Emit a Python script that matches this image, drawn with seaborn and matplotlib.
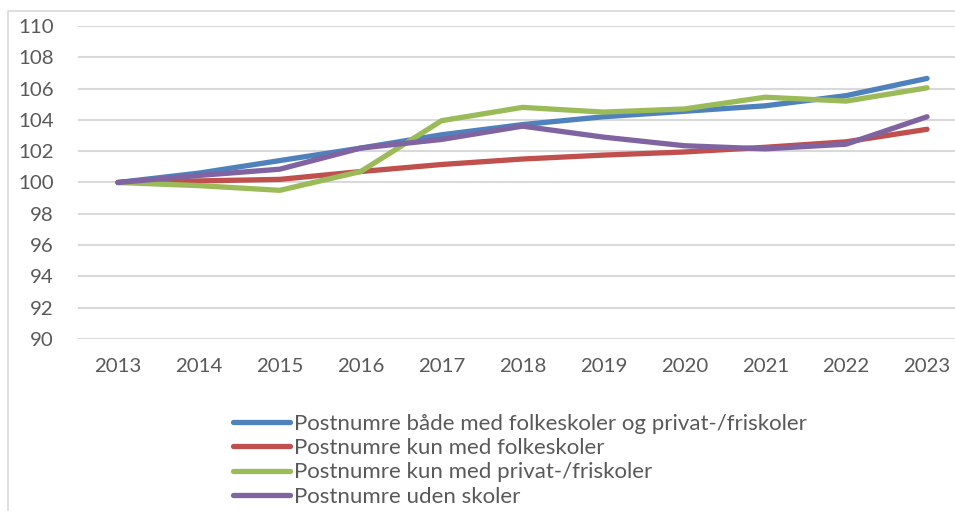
import matplotlib
matplotlib.use("Agg")
import matplotlib.pyplot as plt
import seaborn as sns
import pandas as pd
from matplotlib.patches import Rectangle
from matplotlib.lines import Line2D

years = [2013, 2014, 2015, 2016, 2017, 2018, 2019, 2020, 2021, 2022, 2023]
both = [100, 100.6, 101.4, 102.2, 103.05, 103.7, 104.2, 104.55, 104.9, 105.55, 106.65]
folke = [100, 100.1, 100.2, 100.7, 101.15, 101.5, 101.75, 101.95, 102.25, 102.6, 103.4]
privat = [100, 99.8, 99.5, 100.7, 103.95, 104.8, 104.5, 104.7, 105.45, 105.2, 106.05]
uden = [100, 100.45, 100.85, 102.2, 102.75, 103.6, 102.9, 102.35, 102.15, 102.45, 104.2]

labels = [
    "Postnumre både med folkeskoler og privat-/friskoler",
    "Postnumre kun med folkeskoler",
    "Postnumre kun med privat-/friskoler",
    "Postnumre uden skoler",
]
colors = ["#4F81BD", "#C0504D", "#9BBB59", "#8064A2"]
yticks = [90, 92, 94, 96, 98, 100, 102, 104, 106, 108, 110]

rows = []
for lab, vals in zip(labels, [both, folke, privat, uden]):
    for i, (yr, v) in enumerate(zip(years, vals)):
        rows.append({"pos": i, "year": yr, "value": v, "serie": lab})
df = pd.DataFrame(rows)

sns.set_style("white")
plt.rcParams["font.family"] = ["Lato", "DejaVu Sans"]

fig = plt.figure(figsize=(9.55, 5.11), dpi=100)
ax = fig.add_axes([77.5 / 955, 1 - 339 / 511, (967.5 - 77.5) / 955, (339 - 26) / 511])

sns.lineplot(data=df, x="pos", y="value", hue="serie", palette=colors,
             hue_order=labels, linewidth=3.8, ax=ax, legend=False,
             solid_capstyle="round")

ax.set_xlim(-0.5, 10.5)
ax.set_ylim(90, 110)
ax.set_yticks(yticks)
ax.set_yticklabels([str(t) for t in yticks])
ax.set_xticks(range(len(years)))
ax.set_xticklabels([str(y) for y in years])
ax.grid(axis="y", color="#d9d9d9", linewidth=1.5)
ax.set_axisbelow(True)
for s in ax.spines.values():
    s.set_visible(False)
ax.tick_params(axis="both", length=0, labelsize=14.7, colors="#595959")
ax.tick_params(axis="y", pad=17)
ax.tick_params(axis="x", pad=14)
ax.set_xlabel("")
ax.set_ylabel("")

handles = [Line2D([0], [0], color=c, linewidth=3.8, solid_capstyle="round") for c in colors]
leg = fig.legend(handles, labels, loc="upper left", bbox_to_anchor=(233 / 955, 1 - 414 / 511),
                 frameon=False, fontsize=16, handlelength=2.55, handletextpad=0.18,
                 labelspacing=0.19, borderpad=0, borderaxespad=0)
for t in leg.get_texts():
    t.set_color("#595959")

fig.patches.append(Rectangle((8 / 955, -0.1), 1.1, 1 - 11 / 511 + 0.1, transform=fig.transFigure,
                             fill=False, edgecolor="#d9d9d9", linewidth=1.2))

fig.savefig("out.png", dpi=100)
